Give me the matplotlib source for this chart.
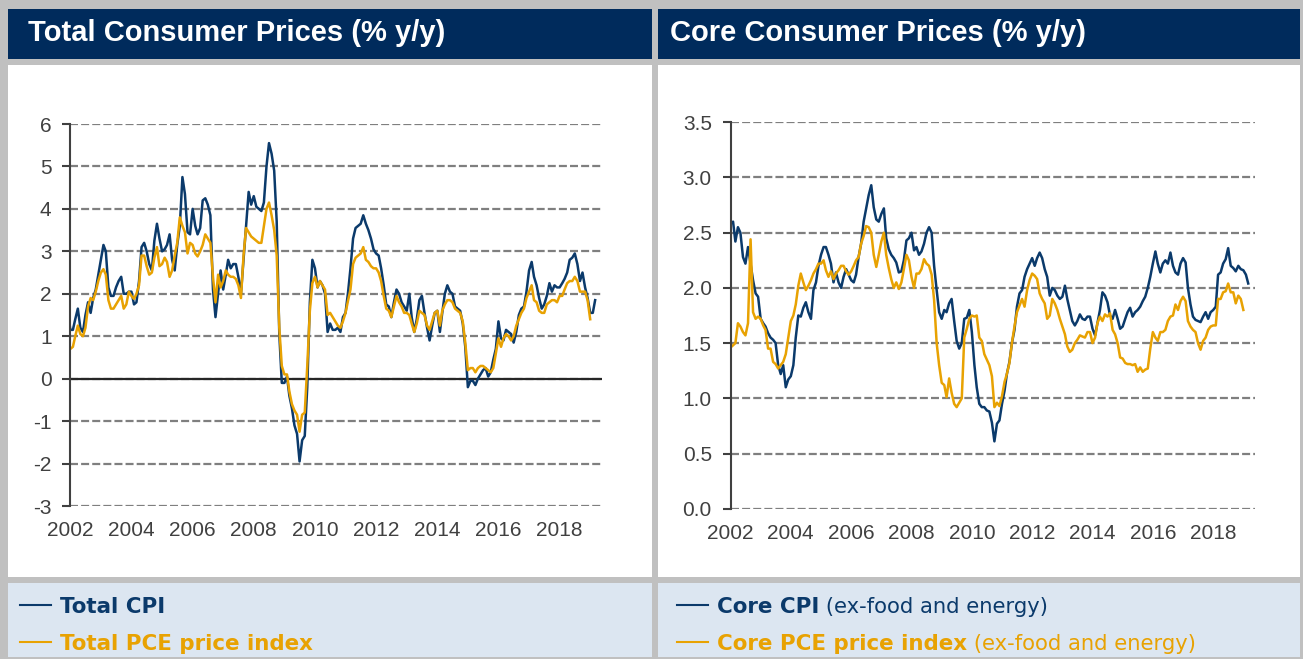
import matplotlib
matplotlib.use("Agg")
import matplotlib.pyplot as plt
from matplotlib.patches import Rectangle
from matplotlib.lines import Line2D
import pandas as pd
import datetime as dt

# ---------------- data (monthly, y/y %) ----------------
# all series start Dec 2001
total_cpi = [
    1.65,
    1.15, 1.15, 1.4, 1.65, 1.2, 1.1, 1.5, 1.8, 1.55, 1.9, 2.1, 2.45,
    2.8, 3.15, 3.0, 2.15, 1.95, 1.95, 2.15, 2.3, 2.4, 2.0, 2.0, 2.05,
    2.05, 1.75, 1.8, 2.3, 3.1, 3.2, 3.0, 2.7, 2.55, 3.25, 3.65, 3.3,
    3.0, 3.05, 3.15, 3.4, 2.8, 2.55, 3.15, 3.6, 4.75, 4.35, 3.45, 3.4,
    4.0, 3.6, 3.4, 3.55, 4.2, 4.25, 4.1, 3.85, 2.1, 1.45, 2.0, 2.55,
    2.1, 2.45, 2.8, 2.6, 2.7, 2.7, 2.4, 2.0, 2.8, 3.55, 4.4, 4.1,
    4.3, 4.05, 4.0, 3.95, 4.15, 5.0, 5.55, 5.3, 4.9, 3.7, 1.05, -0.1,
    -0.1, 0.05, -0.4, -0.7, -1.1, -1.3, -1.95, -1.45, -1.35, -0.2, 1.8, 2.8,
    2.6, 2.15, 2.3, 2.2, 2.0, 1.1, 1.3, 1.15, 1.15, 1.2, 1.1, 1.45,
    1.55, 2.05, 2.6, 3.3, 3.55, 3.6, 3.65, 3.85, 3.65, 3.5, 3.3, 3.05,
    2.95, 2.9, 2.6, 2.2, 1.75, 1.7, 1.45, 1.8, 2.1, 2.0, 1.8, 1.7,
    1.6, 2.0, 1.45, 1.1, 1.4, 1.85, 1.95, 1.55, 1.2, 0.9, 1.25, 1.55,
    1.6, 1.1, 1.55, 2.0, 2.2, 2.05, 2.0, 1.7, 1.65, 1.6, 1.3, 0.75,
    -0.2, -0.05, -0.05, -0.15, 0.0, 0.1, 0.2, 0.25, 0.05, 0.15, 0.45, 0.7,
    1.35, 0.95, 0.9, 1.15, 1.1, 1.05, 0.85, 1.1, 1.5, 1.65, 1.7, 2.05,
    2.55, 2.75, 2.4, 2.2, 1.9, 1.65, 1.75, 1.95, 2.25, 2.05, 2.2, 2.15,
    2.15, 2.25, 2.35, 2.5, 2.8, 2.85, 2.95, 2.7, 2.3, 2.5, 2.15, 1.9,
    1.55, 1.55, 1.85,
]

total_pce = [
    0.7,
    0.7, 0.75, 1.0, 1.25, 1.05, 1.0, 1.2, 1.7, 1.9, 1.85, 2.05, 2.3,
    2.5, 2.58, 2.45, 1.85, 1.65, 1.65, 1.75, 1.85, 1.95, 1.65, 1.75, 2.05,
    1.95, 1.88, 2.0, 2.2, 2.9, 2.9, 2.65, 2.45, 2.5, 2.85, 3.1, 2.65,
    2.7, 2.85, 2.75, 2.4, 2.55, 2.9, 3.2, 3.8, 3.6, 3.45, 2.95, 3.2,
    3.15, 2.95, 2.88, 3.0, 3.15, 3.4, 3.3, 3.2, 2.4, 1.8, 2.45, 2.15,
    2.3, 2.55, 2.45, 2.4, 2.4, 2.35, 2.2, 1.9, 2.9, 3.55, 3.45, 3.35,
    3.3, 3.25, 3.2, 3.2, 3.6, 4.0, 4.15, 3.85, 3.5, 2.9, 1.2, 0.3,
    0.1, 0.1, -0.3, -0.6, -0.75, -0.85, -1.25, -0.85, -0.8, 0.3, 1.6, 2.25,
    2.4, 2.15, 2.3, 2.2, 2.1, 1.5, 1.55, 1.45, 1.35, 1.25, 1.2, 1.35,
    1.55, 1.85, 2.1, 2.7, 2.85, 2.9, 2.95, 3.1, 2.8, 2.75, 2.65, 2.6,
    2.6, 2.5, 2.3, 1.95, 1.65, 1.6, 1.45, 1.7, 1.95, 1.8, 1.7, 1.55,
    1.55, 1.5, 1.3, 1.1, 1.3, 1.6, 1.55, 1.5, 1.25, 1.15, 1.35, 1.55,
    1.6, 1.25, 1.6, 1.75, 1.85, 1.85, 1.8, 1.65, 1.6, 1.55, 1.35, 0.85,
    0.2, 0.25, 0.25, 0.15, 0.25, 0.3, 0.3, 0.25, 0.2, 0.15, 0.25, 0.6,
    0.95, 0.75, 0.95, 1.05, 1.0, 0.9, 1.0, 1.25, 1.4, 1.55, 1.65, 1.9,
    2.05, 2.2, 1.85, 1.8, 1.6, 1.55, 1.55, 1.75, 1.8, 1.85, 1.85, 1.8,
    1.95, 1.95, 2.1, 2.25, 2.3, 2.3, 2.4, 2.3, 2.05, 2.05, 2.05, 1.85,
    1.4,
]

core_cpi = [
    2.72,
    2.58, 2.6, 2.42, 2.55, 2.5, 2.28, 2.22, 2.37, 2.22, 2.07, 1.95, 1.92,
    1.72, 1.68, 1.65, 1.59, 1.55, 1.53, 1.5, 1.3, 1.22, 1.3, 1.1, 1.17,
    1.2, 1.3, 1.55, 1.75, 1.74, 1.82, 1.87, 1.78, 1.72, 1.98, 2.05, 2.2,
    2.3, 2.37, 2.37, 2.3, 2.22, 2.05, 2.14, 2.05, 2.0, 2.1, 2.17, 2.12,
    2.07, 2.05, 2.12, 2.28, 2.4, 2.6, 2.72, 2.84, 2.93, 2.73, 2.62, 2.6,
    2.67, 2.72, 2.45, 2.35, 2.3, 2.27, 2.23, 2.14, 2.15, 2.25, 2.43, 2.45,
    2.5, 2.34, 2.37, 2.3, 2.33, 2.4, 2.5, 2.55, 2.5, 2.2, 1.98, 1.78,
    1.72, 1.8, 1.78, 1.86, 1.9, 1.7, 1.52, 1.45, 1.5, 1.72, 1.73, 1.8,
    1.6, 1.3, 1.1, 0.95, 0.92, 0.92, 0.89, 0.88, 0.78, 0.61, 0.77, 0.8,
    0.95, 1.07, 1.22, 1.33, 1.5, 1.62, 1.83, 1.95, 1.98, 2.1, 2.17, 2.22,
    2.27, 2.2, 2.27, 2.32, 2.27, 2.17, 2.1, 1.93, 2.0, 1.98, 1.93, 1.9,
    1.92, 2.02, 1.9, 1.8, 1.7, 1.66, 1.7, 1.76, 1.72, 1.71, 1.74, 1.74,
    1.63, 1.57, 1.68, 1.8, 1.96, 1.93, 1.87, 1.75, 1.72, 1.8, 1.72, 1.63,
    1.65, 1.72, 1.78, 1.82, 1.74, 1.78, 1.8, 1.83, 1.88, 1.92, 2.0, 2.1,
    2.22, 2.33, 2.22, 2.14, 2.22, 2.25, 2.22, 2.32, 2.2, 2.14, 2.12, 2.22,
    2.27, 2.23, 2.0, 1.85, 1.74, 1.71, 1.7, 1.69, 1.74, 1.78, 1.72, 1.78,
    1.8, 1.83, 2.12, 2.14, 2.22, 2.26, 2.36, 2.2, 2.18, 2.15, 2.2, 2.17,
    2.16, 2.12, 2.04,
]

core_pce = [
    1.45,
    1.46, 1.48, 1.5, 1.68, 1.65, 1.6, 1.57, 1.68, 2.44, 1.78, 1.72, 1.74,
    1.72, 1.66, 1.62, 1.45, 1.45, 1.33, 1.31, 1.27, 1.3, 1.33, 1.4, 1.55,
    1.7, 1.75, 1.85, 2.02, 2.13, 2.05, 1.98, 2.02, 2.07, 2.13, 2.17, 2.22,
    2.22, 2.25, 2.16, 2.1, 2.15, 2.08, 2.13, 2.16, 2.2, 2.2, 2.15, 2.12,
    2.15, 2.2, 2.25, 2.28, 2.4, 2.47, 2.56, 2.55, 2.5, 2.3, 2.19, 2.3,
    2.42, 2.5, 2.3, 2.18, 2.08, 2.0, 2.05, 1.99, 2.05, 2.17, 2.3, 2.25,
    2.1, 2.0, 2.13, 2.13, 2.17, 2.26, 2.22, 2.2, 2.12, 1.89, 1.5, 1.3,
    1.14, 1.12, 1.01, 1.18, 1.05, 0.95, 0.92, 0.96, 1.0, 1.55, 1.63, 1.72,
    1.75, 1.74, 1.75, 1.55, 1.52, 1.4, 1.35, 1.3, 1.2, 0.92, 0.96, 0.93,
    1.02, 1.15, 1.22, 1.32, 1.5, 1.65, 1.78, 1.84, 1.9, 1.83, 1.98, 2.07,
    2.13, 2.11, 2.08, 1.95, 1.9, 1.86, 1.72, 1.75, 1.9, 1.86, 1.8, 1.72,
    1.65, 1.58, 1.47, 1.42, 1.44, 1.5, 1.53, 1.57, 1.56, 1.55, 1.6, 1.6,
    1.5, 1.55, 1.68, 1.74, 1.7, 1.76, 1.74, 1.77, 1.62, 1.58, 1.5, 1.37,
    1.36, 1.32, 1.31, 1.31, 1.3, 1.31, 1.24, 1.28, 1.24, 1.26, 1.27, 1.45,
    1.6, 1.55, 1.52, 1.6, 1.6, 1.62, 1.7, 1.74, 1.75, 1.85, 1.8, 1.88,
    1.92, 1.88, 1.7, 1.65, 1.62, 1.6, 1.5, 1.44, 1.52, 1.55, 1.62, 1.65,
    1.66, 1.66, 1.9, 1.9, 1.96, 1.97, 2.04, 1.96, 1.96, 1.86, 1.93, 1.9,
    1.8,
]

start_month = "2001-12-01"
year_ticks = [2002, 2004, 2006, 2008, 2010, 2012, 2014, 2016, 2018]
left_yticks = [-3, -2, -1, 0, 1, 2, 3, 4, 5, 6]
right_yticks = [0.0, 0.5, 1.0, 1.5, 2.0, 2.5, 3.0, 3.5]

titles = ["Total Consumer Prices (% y/y)", "Core Consumer Prices (% y/y)"]
legend_left = [("Total CPI", ""), ("Total PCE price index", "")]
legend_right = [("Core CPI", " (ex-food and energy)"),
                ("Core PCE price index", " (ex-food and energy)")]

# ---------------- styling ----------------
NAVY_HDR = "#002B5C"
NAVY = "#0B3A6B"
GOLD = "#E8A202"
GRAY_BG = "#C0C0C0"
LEG_BG = "#DCE6F1"
TICK_C = "#404040"
LW = 1.8

W, H = 1303, 659
fig = plt.figure(figsize=(W / 100, H / 100), dpi=100, facecolor=GRAY_BG)


def rect(x0, y0, x1, y1, color):
    fig.add_artist(Rectangle((x0 / W, 1 - y1 / H), (x1 - x0) / W, (y1 - y0) / H,
                             transform=fig.transFigure, facecolor=color,
                             edgecolor="none", zorder=-5))


def dates_for(n):
    return pd.date_range(start_month, periods=n, freq="MS").to_pydatetime()


for (x0, x1) in [(7.5, 651.5), (657.5, 1300)]:
    rect(x0, 9, x1, 59, NAVY_HDR)
    rect(x0, 64.5, x1, 577, "white")
    rect(x0, 582.5, x1, 657, LEG_BG)

title_font = dict(family="Liberation Sans", weight="bold", size=21, color="white")
fig.text(28.5 / W, 1 - 41 / H, titles[0], va="baseline", ha="left", **title_font)
fig.text(670 / W, 1 - 41 / H, titles[1], va="baseline", ha="left", **title_font)

xmin = dt.datetime(2002, 1, 1)
xmax = dt.datetime(2019, 5, 22)


def style_axes(ax, yticks, ylabels, ylim):
    ax.set_facecolor("none")
    ax.set_xlim(xmin, xmax)
    ax.set_ylim(*ylim)
    ax.set_yticks(yticks)
    ax.set_yticklabels(ylabels)
    ax.set_xticks([dt.datetime(y, 1, 1) for y in year_ticks])
    ax.set_xticklabels([str(y) for y in year_ticks])
    for s in ["top", "right", "bottom"]:
        ax.spines[s].set_visible(False)
    ax.spines["left"].set_color(TICK_C)
    ax.spines["left"].set_linewidth(1.5)
    ax.spines["left"].set_zorder(4)
    ax.tick_params(axis="y", length=5.5, width=1.5, color=TICK_C, pad=8,
                   labelsize=15, labelcolor=TICK_C)
    ax.tick_params(axis="x", length=0, pad=11, labelsize=15, labelcolor=TICK_C)
    for lab in ax.get_xticklabels() + ax.get_yticklabels():
        lab.set_family("Liberation Sans")
    ax.yaxis.grid(True, color="#7F7F7F", linewidth=1.6, linestyle=(0, (3.6, 1.4)))
    ax.set_axisbelow(True)


ax1 = fig.add_axes([70.3 / W, 1 - 506 / H, (602 - 70.3) / W, (506 - 124) / H])
style_axes(ax1, left_yticks, [str(v) for v in left_yticks], (-3, 6))
ax1.axhline(0, color="#262626", linewidth=1.6, zorder=2)
ax1.plot(dates_for(len(total_cpi)), total_cpi, color=NAVY, linewidth=LW, zorder=3)
ax1.plot(dates_for(len(total_pce)), total_pce, color=GOLD, linewidth=LW, zorder=3)

ax2 = fig.add_axes([730.5 / W, 1 - 508.7 / H, (1255 - 730.5) / W, (508.7 - 122.3) / H])
style_axes(ax2, right_yticks, [f"{v:.1f}" for v in right_yticks], (0, 3.5))
ax2.plot(dates_for(len(core_cpi)), core_cpi, color=NAVY, linewidth=LW, zorder=3)
ax2.plot(dates_for(len(core_pce)), core_pce, color=GOLD, linewidth=LW, zorder=3)

# ---------------- legends ----------------
renderer = fig.canvas.get_renderer()


def legend_block(xline0, xtext, entries):
    for (bold, rest), color, yl in zip(entries, [NAVY, GOLD], [605, 641.7]):
        fig.add_artist(Line2D([xline0 / W, (xline0 + 31) / W], [1 - yl / H, 1 - yl / H],
                              transform=fig.transFigure, color=color, linewidth=1.5))
        t = fig.text(xtext / W, 1 - (yl + 7.8) / H, bold, va="baseline", ha="left",
                     family="DejaVu Sans", weight="bold", size=15.4, color=color)
        if rest:
            bb = t.get_window_extent(renderer)
            fig.text(bb.x1 / W, 1 - (yl + 7.8) / H, rest, va="baseline", ha="left",
                     family="DejaVu Sans", size=15.2, color=color)


legend_block(20, 60, legend_left)
legend_block(677, 717, legend_right)

fig.savefig("out.png", dpi=100, facecolor=GRAY_BG)
